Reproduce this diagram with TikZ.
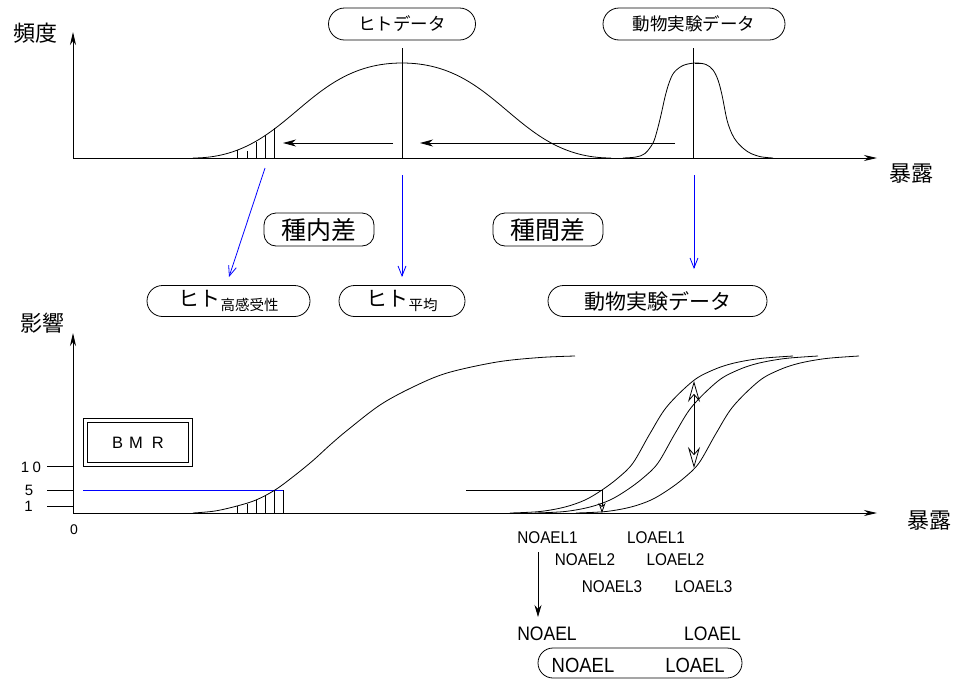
\documentclass[tikz,border=0pt]{standalone}
\usepackage{fontspec}
\setmainfont{Liberation Sans}
\newfontfamily\jp{Noto Sans CJK JP}
\newfontfamily\nar[FakeStretch=0.9]{Liberation Sans}
\usetikzlibrary{arrows.meta,shapes.misc}
\tikzset{
  every node/.style={inner sep=0pt},
  ln/.style={line width=0.8pt},
  axisarr/.style={line width=0.9pt,-{Stealth[length=13pt,width=6pt,inset=4pt]}},
  harr/.style={line width=0.8pt,-{Stealth[length=13pt,width=7pt,inset=4pt]}},
  blarr/.style={blue,line width=0.8pt,-{Straight Barb[length=10pt,width=8pt]}},
  openarr/.style={line width=0.8pt,-{Stealth[open,length=21pt,width=12pt,inset=7pt]}},
  smallopen/.style={line width=0.8pt,-{Stealth[open,length=10pt,width=7pt,inset=3pt]}},
  darr/.style={line width=0.8pt,-{Stealth[length=12pt,width=7pt,inset=4pt]}},
  pill/.style={draw,rounded rectangle,line width=0.8pt,inner sep=0pt},
  rbox/.style={draw,rounded corners=12pt,line width=0.8pt,inner sep=0pt},
  jpL/.style={font=\jp\fontsize{22}{22}\selectfont},
  jpM/.style={font=\jp\fontsize{17.5}{17.5}\selectfont},
  jpB/.style={font=\jp\fontsize{25}{25}\selectfont},
  jpO/.style={font=\jp\fontsize{21}{21}\selectfont},
  lbl/.style={font=\nar\fontsize{17}{17}\selectfont},
  lblB/.style={font=\nar\fontsize{19.5}{19.5}\selectfont},
  lblC/.style={font=\nar\fontsize{20.5}{20.5}\selectfont},
  tick/.style={font=\fontsize{15}{15}\selectfont},
}
\newcommand\subjp[1]{\raisebox{-4pt}{\fontsize{14.5}{14.5}\selectfont #1}}
\begin{document}
\begin{tikzpicture}[x=1pt,y=-1pt]
\useasboundingbox (0,0) rectangle (956,678);

% ================= TOP PANEL =================
\coordinate (tO) at (73,158);
\coordinate (tY) at (73,32);
\coordinate (tX) at (877,158);
\draw[axisarr] (tO) -- (tY);
\draw[axisarr] (tO) -- (tX);
\node[jpL] (hindo) at (35,33) {頻度};
\node[jpL] (bakuroA) at (911,174) {暴露};

\node[pill,jpM,minimum width=147pt,minimum height=32pt] (hitodata) at (402,24) {ヒトデータ};
\node[pill,jpM,minimum width=182pt,minimum height=32pt] (animaldata) at (694,24) {動物実験データ};

% vertical marker lines
\coordinate (hvT) at (402,48); \coordinate (hvB) at (402,158);
\coordinate (avT) at (693,48); \coordinate (avB) at (693,158);
\draw[ln] (hvT) -- (hvB);
\draw[ln] (avT) -- (avB);

% human distribution
\draw[ln] (193,158) .. controls (289,158) and (305,63) .. (402,63)
          .. controls (499,63) and (515,158) .. (611,158);
% hatching
\foreach \x/\y in {237/150, 247/151, 256/142, 265/135, 274/128}
  \draw[ln] (\x,158) -- (\x,\y);

% animal distribution
\draw[ln] plot[smooth,tension=0.55] coordinates {
  (623,158) (636,157) (645,153.5) (653,143) (657,131) (661,115) (665,97)
  (669,83) (674,72.5) (683,65.5) (695,63) (706,64.5) (713,70) (718,80)
  (722,95) (727,120) (732,134) (737,142) (744,149) (751,153.5) (761,156.8) (773,158)};
\draw[ln] (695,63) -- (703,63);

% horizontal arrows
\coordinate (a1s) at (393,143); \coordinate (a1e) at (283,143);
\coordinate (a2s) at (675,143); \coordinate (a2e) at (420,143);
\draw[harr] (a1s) -- (a1e);
\draw[harr] (a2s) -- (a2e);

% ================= MIDDLE =================
\node[rbox,jpB,minimum width=110pt,minimum height=33pt] (shunai) at (319,229.5) {種内差};
\node[rbox,jpB,minimum width=110pt,minimum height=33pt] (shukan) at (548,229.5) {種間差};

\node[pill,jpO,minimum width=163pt,minimum height=31pt] (hitoS) at (228.5,301) {ヒト\subjp{高感受性}};
\node[pill,jpO,minimum width=126pt,minimum height=31pt] (hitoA) at (402,301) {ヒト\subjp{平均}};
\node[pill,jpO,minimum width=219pt,minimum height=31pt] (animalB) at (657.5,301) {動物実験データ};

\coordinate (b1s) at (265,168); \coordinate (b1e) at (229,277);
\coordinate (b2s) at (402,175); \coordinate (b2e) at (402,277);
\coordinate (b3s) at (694,175); \coordinate (b3e) at (694,269);
\draw[blarr] (b1s) -- (b1e);
\draw[blarr] (b2s) -- (b2e);
\draw[blarr] (b3s) -- (b3e);

% ================= BOTTOM PANEL =================
\coordinate (bO) at (73,513);
\coordinate (bY) at (73,333);
\coordinate (bX) at (877,513);
\draw[axisarr] (bO) -- (bY);
\draw[axisarr] (bO) -- (bX);
\node[jpL] (eikyo) at (42,323) {影響};
\node[jpL] (bakuroB) at (929,521) {暴露};

% ticks and labels
\coordinate (t10) at (47,466); \coordinate (t10e) at (73,466);
\coordinate (t5) at (47,490);  \coordinate (t5e) at (73,490);
\coordinate (t1) at (47,506);  \coordinate (t1e) at (73,506);
\draw[ln] (t10) -- (t10e);
\draw[ln] (t5) -- (t5e);
\draw[ln] (t1) -- (t1e);
\node[tick] (l10) at (31,467) {1\hspace{3.5pt}0};
\node[tick] (l5) at (29,490) {5};
\node[tick] (l1) at (28.5,506) {1};
\node[font=\fontsize{14}{14}\selectfont] (l0) at (74,530) {0};

% BMR box
\node[draw,double,double distance=3pt,line width=0.8pt,minimum width=105.4pt,minimum height=44.4pt,
      font=\fontsize{16.5}{16.5}\selectfont] (bmr) at (138,442.5) {B\hspace{6pt}M\hspace{9pt}R};

% blue BMR line
\coordinate (bl1) at (83,490); \coordinate (bl2) at (283,490);
\draw[blue,line width=0.8pt] (bl1) -- (bl2);

% human dose-response
\draw[ln] plot[smooth,tension=0.55] coordinates {
  (193,513) (215,511) (237,506) (256,500) (275,490) (294,476) (313,460.5)
  (330,445) (347,430.5) (380,405) (413,387) (447,373) (497,362) (540,357.5) (575,356)};
\foreach \x/\y in {237/506, 247/503.5, 256/500, 265/496, 274/491, 283/490}
  \draw[ln] (\x,513) -- (\x,\y);

% animal dose-response curves
\foreach \s/\e in {0/793, 25/818, 66/858}{
  \begin{scope}[xshift=\s pt]
  \draw[ln] plot[smooth,tension=0.55] coordinates {
    (510,513) (540,511.5) (565,507) (585,500) (602,490) (618,478) (633,463)
    (650,433.5) (667,406.5) (693,381) (713,370) (733,363.3) (760,358.5) (793,356)};
  \end{scope}
}

% NOAEL marker
\coordinate (nh1) at (466,490); \coordinate (nh2) at (602,490);
\coordinate (nv) at (602,513);
\draw[ln] (nh1) -- (nh2);
\draw[smallopen] (nh2) -- (nv);

% double arrow between curves
\coordinate (c1) at (694,381);
\coordinate (c2) at (694,404);
\coordinate (c3) at (694,468);
\draw[openarr] (c2) -- (c1);
\draw[openarr] (c2) -- (c3);

% NOAEL / LOAEL labels
\node[lbl] (n1) at (547.5,538) {NOAEL1};
\node[lbl] (lo1) at (656,538) {LOAEL1};
\node[lbl] (n2) at (585,560) {NOAEL2};
\node[lbl] (lo2) at (675.5,560) {LOAEL2};
\node[lbl] (n3) at (612,587) {NOAEL3};
\node[lbl] (lo3) at (703.5,587) {LOAEL3};

\coordinate (da1) at (538,552); \coordinate (da2) at (538,617);
\draw[darr] (da1) -- (da2);

\node[lblB] (nB) at (547,634) {NOAEL};
\node[lblB] (loB) at (712.5,634) {LOAEL};

\node[pill,minimum width=204pt,minimum height=30pt] (final) at (640,663) {};
\node[lblC] (nC) at (583,665) {NOAEL};
\node[lblC] (loC) at (695,665) {LOAEL};
\end{tikzpicture}
\end{document}
